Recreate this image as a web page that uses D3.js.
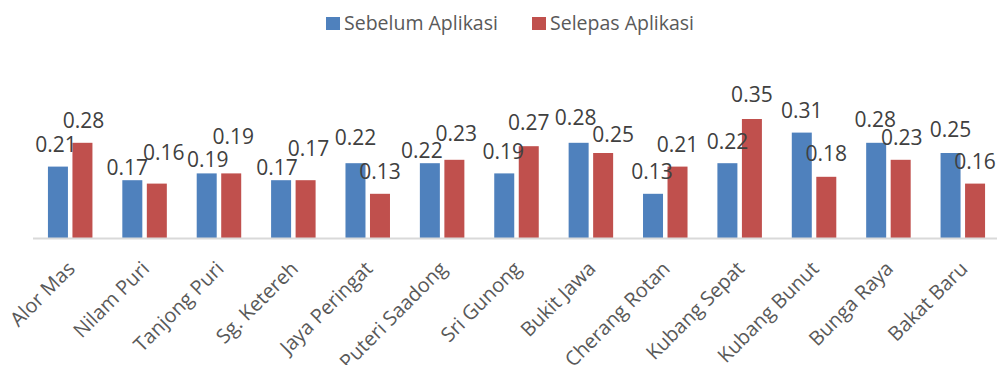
<!DOCTYPE html>
<html>
<head>
<meta charset="utf-8">
<script src="https://cdn.jsdelivr.net/npm/d3@7/dist/d3.min.js"></script>
<style>
  html, body { margin: 0; padding: 0; background: #fff; }
  svg { display: block; font-family: "Open Sans", "Noto Sans", sans-serif; }
</style>
</head>
<body>
<svg id="chart" width="997" height="365"></svg>
<script>
// Locations (kawasan)
const categories = [
  "Alor Mas", "Nilam Puri", "Tanjong Puri", "Sg. Ketereh", "Jaya Peringat",
  "Puteri Saadong", "Sri Gunong", "Bukit Jawa", "Cherang Rotan",
  "Kubang Sepat", "Kubang Bunut", "Bunga Raya", "Bakat Baru"
];
const seriesNames = ["Sebelum Aplikasi", "Selepas Aplikasi"];
const sebelum = [0.21, 0.17, 0.19, 0.17, 0.22, 0.22, 0.19, 0.28, 0.13, 0.22, 0.31, 0.28, 0.25];
const selepas = [0.28, 0.16, 0.19, 0.17, 0.13, 0.23, 0.27, 0.25, 0.21, 0.35, 0.18, 0.23, 0.16];
const seriesColors = ["#4F81BD", "#C0504D"];

// Per-label nudges [dx, dy] so neighbouring value labels do not collide
const labelNudge = [
  [[-2, 0], [-5, 10], [1, 9], [-4, 10], [0, -3], [-8, 10], [-1, 1], [-3, -3], [-1, 0], [0, 1], [0, 0], [-1, -1], [0, -1]],
  [[1, 0], [7, -9], [2, -14], [3, -9], [0, 0], [2, -4], [0, -1], [10, 4], [0, 0], [0, -2], [0, -1], [1, 0], [0, 0]]
];

const values = [sebelum, selepas];
const rows = categories.map((c, i) => ({ cat: c, vals: values.map(v => v[i]) }));

const svg = d3.select("#chart");
const baseY = 238;

const x = d3.scaleBand().domain(categories).range([33, 1000])
  .paddingInner(0.4017).paddingOuter(0.2008);
const xs = d3.scaleBand().domain(d3.range(seriesNames.length))
  .range([0, x.bandwidth()]).paddingInner(0.184);
const y = d3.scaleLinear().domain([0, 0.4]).range([baseY, 102]);

// Bars
const groups = svg.append("g").selectAll("g").data(rows).join("g")
  .attr("transform", d => `translate(${x(d.cat)},0)`);

groups.selectAll("rect").data(d => d.vals.map((v, s) => ({ v, s })))
  .join("rect")
  .attr("x", d => xs(d.s))
  .attr("width", xs.bandwidth())
  .attr("y", d => y(d.v))
  .attr("height", d => y(0) - y(d.v))
  .attr("fill", d => seriesColors[d.s]);

// Baseline axis
const xAxis = d3.axisBottom(x).tickSize(0).tickFormat("");
const axisG = svg.append("g").attr("transform", `translate(0,${baseY})`).call(xAxis);
axisG.select(".domain").remove();
axisG.append("line").attr("x1", 33).attr("x2", 997).attr("y1", 0.5).attr("y2", 0.5)
  .attr("stroke", "#d9d9d9").attr("stroke-width", 2);

// Value labels
groups.selectAll("text.val").data((d, i) => d.vals.map((v, s) => ({ v, s, i })))
  .join("text")
  .attr("class", "val")
  .attr("x", d => xs(d.s) + xs.bandwidth() / 2 + labelNudge[d.s][d.i][0])
  .attr("y", d => y(d.v) - 15 + labelNudge[d.s][d.i][1])
  .attr("text-anchor", "middle")
  .attr("font-size", 21)
  .attr("fill", "#404040")
  .text(d => d3.format(".2f")(d.v));

// Category labels, rotated
svg.append("g").selectAll("text").data(categories).join("text")
  .attr("transform", d => `translate(${x(d) + x.bandwidth() / 2 + 6},270) rotate(-45)`)
  .attr("text-anchor", "end")
  .attr("font-size", 20)
  .attr("fill", "#595959")
  .text(d => d);

// Legend
const legendX = [326, 532];
const legend = svg.append("g").selectAll("g").data(seriesNames).join("g")
  .attr("transform", (d, i) => `translate(${legendX[i]},0)`);
legend.append("rect").attr("x", 0).attr("y", 17).attr("width", 14).attr("height", 13)
  .attr("fill", (d, i) => seriesColors[i]);
legend.append("text").attr("x", 18).attr("y", 30)
  .attr("font-size", 19.5).attr("fill", "#595959").text(d => d);
</script>
</body>
</html>
